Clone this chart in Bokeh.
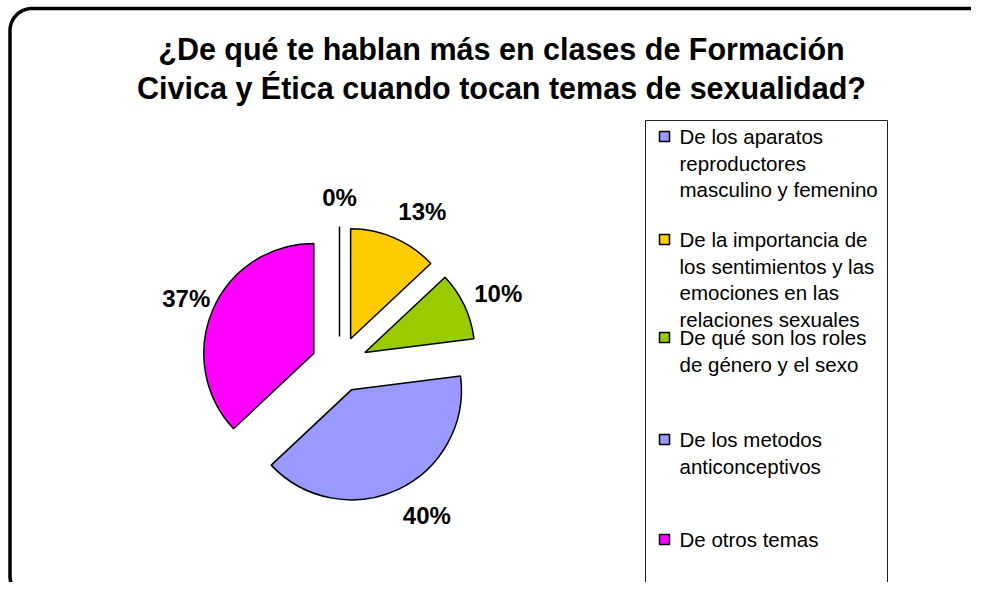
import numpy as np
from bokeh.plotting import figure
from bokeh.models import Range1d, ColumnDataSource
from bokeh.core.properties import value
from bokeh.embed import file_html
from bokeh.resources import INLINE

# ---------------- data ----------------
title_lines = ["¿De qué te hablan más en clases de Formación",
               "Civica y Ética cuando tocan temas de sexualidad?"]
categories = [
    "De los aparatos\nreproductores\nmasculino y femenino",
    "De la importancia de\nlos sentimientos y las\nemociones en las\nrelaciones sexuales",
    "De qué son los roles\nde género y el sexo",
    "De los metodos\nanticonceptivos",
    "De otros temas",
]
values = [0, 13, 10, 40, 37]
pct_labels = ["0%", "13%", "10%", "40%", "37%"]
colors = ["#9999FF", "#FFCC00", "#99CC00", "#9999FF", "#FF00FF"]

# ---------------- layout (pixels, y up) ----------------
W, H = 971, 582
CX, CY = 339, 218          # pie centre
R = 110                    # pie radius
EXPLODE = 28               # slice offset
LR = 167                   # label distance
FONT = "Liberation Sans"

p = figure(width=W, height=H, x_range=Range1d(0, W), y_range=Range1d(0, H),
           output_backend="svg", toolbar_location=None, min_border=0,
           x_axis_location=None, y_axis_location=None)
p.grid.visible = False
p.outline_line_color = None
p.background_fill_color = "white"
p.border_fill_color = "white"

# rounded chart border
def rounded_rect(x0, y0, x1, y1, r, n=16):
    xs, ys = [], []
    for (cx, cy, a0, a1) in [(x1 - r, y1 - r, 90, 0), (x1 - r, y0 + r, 0, -90),
                             (x0 + r, y0 + r, -90, -180), (x0 + r, y1 - r, 180, 90)]:
        t = np.radians(np.linspace(a0, a1, n))
        xs.extend(cx + r * np.cos(t))
        ys.extend(cy + r * np.sin(t))
    xs.append(xs[0]); ys.append(ys[0])
    return xs, ys

bx, by = rounded_rect(9.5, -16, 992, 574, 22)
p.line(bx, by, line_color="black", line_width=3.5)

# title
p.text(x=[501, 501], y=[534, 495], text=title_lines,
       text_font=value(FONT), text_font_style="bold", text_font_size="30.5px",
       text_align="center", text_baseline="alphabetic", text_color="black")

# pie geometry from values
vals = np.array(values, dtype=float)
cum = np.concatenate([[0.0], np.cumsum(vals)]) / vals.sum()
f0, f1 = cum[:-1], cum[1:]
mid = (f0 + f1) / 2
bis = np.pi / 2 - 2 * np.pi * mid
sx = CX + EXPLODE * np.cos(bis)
sy = CY + EXPLODE * np.sin(bis)
start_ang = np.pi / 2 - 2 * np.pi * f1
end_ang = np.pi / 2 - 2 * np.pi * f0

nz = vals > 0
src = ColumnDataSource(dict(x=sx[nz], y=sy[nz], start=start_ang[nz], end=end_ang[nz],
                            color=[c for c, k in zip(colors, nz) if k]))
p.wedge(x="x", y="y", radius=R, start_angle="start", end_angle="end",
        fill_color="color", line_color="black", line_width=1.5, source=src)

zr = ~nz
if zr.any():
    a = end_ang[zr]
    p.segment(x0=sx[zr], y0=sy[zr], x1=sx[zr] + R * np.cos(a), y1=sy[zr] + R * np.sin(a),
              line_color="black", line_width=1.5)

# percentage labels (outside end; right-hand labels pushed outward like the original)
right_side = (np.cos(bis) > 0.1).astype(float)
lx = CX + LR * np.cos(bis) + 18 * np.abs(np.sin(bis)) * right_side
ly = CY + LR * np.sin(bis)
p.text(x=lx, y=ly, text=pct_labels,
       text_font=value(FONT), text_font_style="bold", text_font_size="24px",
       text_align="center", text_baseline="middle", text_color="black")

# legend box
LX0, LX1, LTOP = 645, 887, 462
p.line([LX0, LX0, LX1, LX1], [-10, LTOP, LTOP, -10], line_color="#222222", line_width=1)

entry_tops = [446, 343, 245, 143, 43]   # first-line centres
LINE_H = 26.5
for i, lab in enumerate(categories):
    lines = lab.split("\n")
    p.text(x=[679] * len(lines), y=[entry_tops[i] - k * LINE_H for k in range(len(lines))],
           text=lines, text_font=value(FONT), text_font_size="20.5px",
           text_align="left", text_baseline="middle", text_color="black")
p.rect(x=[664] * len(categories), y=entry_tops, width=10, height=10,
       fill_color=colors, line_color="black", line_width=1.5)

open("out.html", "w").write(file_html(p, INLINE))
